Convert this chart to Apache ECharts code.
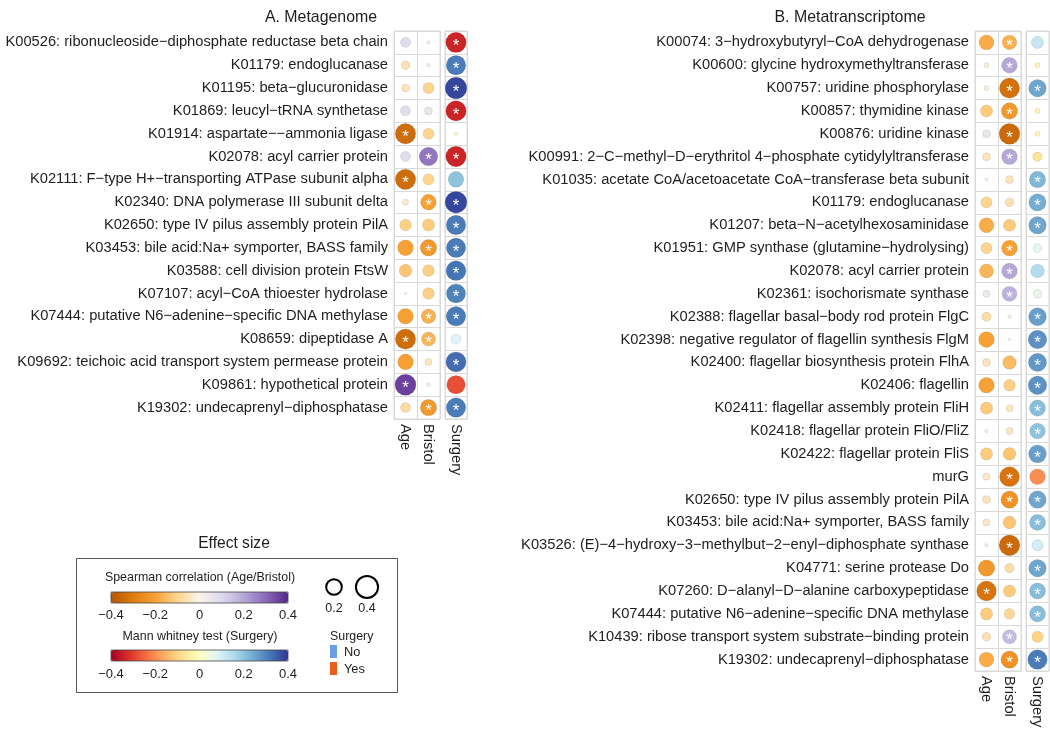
<!DOCTYPE html>
<html><head><meta charset="utf-8">
<script src="https://cdn.jsdelivr.net/npm/echarts@6/dist/echarts.min.js"></script>
<style>html,body{margin:0;padding:0;background:#fff}#c{width:1050px;height:732px}</style>
</head><body><div id="c"></div>
<script>
// ---------- Panel A: Metagenome ----------
const catsA = [
  'K00526: ribonucleoside\u2212diphosphate reductase beta chain',
  'K01179: endoglucanase',
  'K01195: beta\u2212glucuronidase',
  'K01869: leucyl\u2212tRNA synthetase',
  'K01914: aspartate\u2212\u2212ammonia ligase',
  'K02078: acyl carrier protein',
  'K02111: F\u2212type H+\u2212transporting ATPase subunit alpha',
  'K02340: DNA polymerase III subunit delta',
  'K02650: type IV pilus assembly protein PilA',
  'K03453: bile acid:Na+ symporter, BASS family',
  'K03588: cell division protein FtsW',
  'K07107: acyl\u2212CoA thioester hydrolase',
  'K07444: putative N6\u2212adenine\u2212specific DNA methylase',
  'K08659: dipeptidase A',
  'K09692: teichoic acid transport system permease protein',
  'K09861: hypothetical protein',
  'K19302: undecaprenyl\u2212diphosphatase'
];
const ageA      = [0.08,-0.06,-0.05,0.08,-0.34,0.08,-0.34,-0.03,-0.11,-0.20,-0.13,-0.005,-0.20,-0.34,-0.20,0.36,-0.08];
const bristolA  = [-0.01,-0.01,-0.10,0.05,-0.10,0.28,-0.10,-0.20,-0.12,-0.22,-0.11,-0.11,-0.17,-0.16,-0.04,-0.01,-0.22];
const surgeryA  = [-0.34,0.31,0.38,-0.34,0.01,-0.34,0.20,0.38,0.31,0.31,0.32,0.30,0.31,0.08,0.33,-0.28,0.31];
const sigAgeA     = [0,0,0,0,1,0,1,0,0,0,0,0,0,1,0,1,0];
const sigBristolA = [0,0,0,0,0,1,0,1,0,1,0,0,1,1,0,0,1];
const sigSurgeryA = [1,1,1,1,0,1,0,1,1,1,1,1,1,0,1,0,1];

// ---------- Panel B: Metatranscriptome ----------
const catsB = [
  'K00074: 3\u2212hydroxybutyryl\u2212CoA dehydrogenase',
  'K00600: glycine hydroxymethyltransferase',
  'K00757: uridine phosphorylase',
  'K00857: thymidine kinase',
  'K00876: uridine kinase',
  'K00991: 2\u2212C\u2212methyl\u2212D\u2212erythritol 4\u2212phosphate cytidylyltransferase',
  'K01035: acetate CoA/acetoacetate CoA\u2212transferase beta subunit',
  'K01179: endoglucanase',
  'K01207: beta\u2212N\u2212acetylhexosaminidase',
  'K01951: GMP synthase (glutamine\u2212hydrolysing)',
  'K02078: acyl carrier protein',
  'K02361: isochorismate synthase',
  'K02388: flagellar basal\u2212body rod protein FlgC',
  'K02398: negative regulator of flagellin synthesis FlgM',
  'K02400: flagellar biosynthesis protein FlhA',
  'K02406: flagellin',
  'K02411: flagellar assembly protein FliH',
  'K02418: flagellar protein FliO/FliZ',
  'K02422: flagellar protein FliS',
  'murG',
  'K02650: type IV pilus assembly protein PilA',
  'K03453: bile acid:Na+ symporter, BASS family',
  'K03526: (E)\u22124\u2212hydroxy\u22123\u2212methylbut\u22122\u2212enyl\u2212diphosphate synthase',
  'K04771: serine protease Do',
  'K07260: D\u2212alanyl\u2212D\u2212alanine carboxypeptidase',
  'K07444: putative N6\u2212adenine\u2212specific DNA methylase',
  'K10439: ribose transport system substrate\u2212binding protein',
  'K19302: undecaprenyl\u2212diphosphatase'
];
const ageB     = [-0.18,-0.02,-0.02,-0.12,0.05,-0.05,-0.01,-0.10,-0.18,-0.10,-0.16,0.04,-0.07,-0.20,-0.05,-0.20,-0.12,-0.01,-0.12,-0.04,-0.05,-0.04,-0.01,-0.22,-0.32,-0.12,-0.06,-0.18];
const bristolB = [-0.17,0.20,-0.33,-0.22,-0.35,0.20,-0.05,-0.06,-0.12,-0.20,0.20,0.18,-0.01,-0.005,-0.15,-0.11,-0.04,-0.04,-0.13,-0.32,-0.24,-0.13,-0.35,-0.07,-0.12,-0.09,0.16,-0.24];
const surgeryB = [0.12,-0.02,0.25,-0.02,-0.02,-0.07,0.22,0.24,0.25,0.06,0.15,0.06,0.26,0.28,0.27,0.28,0.21,0.20,0.26,-0.20,0.25,0.21,0.10,0.25,0.21,0.21,-0.10,0.31];
const sigAgeB     = [0,0,0,0,0,0,0,0,0,0,0,0,0,0,0,0,0,0,0,0,0,0,0,0,1,0,0,0];
const sigBristolB = [1,1,1,1,1,1,0,0,0,1,1,1,0,0,0,0,0,0,0,1,1,0,1,0,0,0,1,1];
const sigSurgeryB = [0,0,1,0,0,0,1,1,1,0,0,0,1,1,1,1,1,1,1,0,1,1,0,1,1,1,0,1];

// ---------- Legend content ----------
const corrCols = ['Age','Bristol'];
const surgCols = ['Surgery'];
const tickVals = [-0.4,-0.2,0,0.2,0.4];
const tickLabels = ['\u22120.4','\u22120.2','0','0.2','0.4'];
const sizeKeys = [0.2,0.4];
const sizeKeyLabels = ['0.2','0.4'];
const surgeryLevels = ['No','Yes'];
const surgeryLevelColors = ['#6a9fe6','#e8601c'];

const FONT = 'Liberation Sans, Arial, sans-serif';
const TXT = '#1e1e1e';
const GRIDLINE = '#d9d9d9';
const sizeOf = v => 35*Math.sqrt(Math.abs(v));

const puor = ['#b35806','#e07b10','#f7a135','#fdd58e','#fbf3ea','#dcd8ee','#b5a8d6','#8a69bb','#542788'];
const rdylbu = ['#a50026','#d73027','#f46d43','#fdae61','#fee090','#ffffbf','#e0f3f8','#abd9e9','#74add1','#4575b4','#313695'];

function cellData(cols, sigs){
  const out=[];
  cols.forEach((arr,ci)=>arr.forEach((v,ri)=>out.push([ci,ri,v,sigs[ci][ri]])));
  return out;
}

const grids = [
  {left:394, top:31, width:46, height:388},
  {left:445, top:31, width:22, height:388},
  {left:975, top:31, width:46, height:640},
  {left:1026, top:31, width:23, height:640}
].map(g=>Object.assign({show:true, borderColor:GRIDLINE, borderWidth:1, backgroundColor:'#fff', containLabel:false, outerBoundsMode:'none'}, g));

function xAx(gi, data){
  return {type:'category', gridIndex:gi, data:data, position:'bottom', boundaryGap:true,
    axisLine:{show:false}, axisTick:{show:false},
    axisLabel:{rotate:-90, interval:0, margin:5, fontSize:14.7, color:TXT, fontFamily:FONT},
    splitLine:{show:true, lineStyle:{color:GRIDLINE, width:1}}};
}
function yAx(gi, data, showLab){
  return {type:'category', gridIndex:gi, data:data, inverse:true, boundaryGap:true,
    axisLine:{show:false}, axisTick:{show:false},
    axisLabel:{show:showLab, interval:0, margin:6, fontSize:14.7, color:TXT, fontFamily:FONT},
    splitLine:{show:true, lineStyle:{color:GRIDLINE, width:1}}};
}
function ser(gi, data){
  return {type:'scatter', xAxisIndex:gi, yAxisIndex:gi, data:data,
    symbol:'circle', symbolSize: v=>sizeOf(v[2]),
    itemStyle:{borderColor:'rgba(0,0,0,0.12)', borderWidth:0.8, opacity:1},
    label:{show:true, position:'inside', formatter:p=>p.value[3]?'*':'', color:'#fff', fontSize:17, fontFamily:FONT, offset:[0,4]},
    emphasis:{disabled:true}, silent:true, animation:false};
}

const graphics = [];
const legendText = (x,y,t,size,align)=>graphics.push({type:'text', x:x, y:y, style:{text:t, fontSize:size, fontFamily:FONT, fill:TXT, align:align||'center', verticalAlign:'middle'}});
// legend frame and headings
legendText(234,544,'Effect size',15.6);
graphics.push({type:'rect', shape:{x:76.5,y:558.5,width:321,height:134}, style:{fill:'none', stroke:'#555', lineWidth:1}});
legendText(200,578,'Spearman correlation (Age/Bristol)',12.4);
legendText(200,637,'Mann whitney test (Surgery)',12.4);
// bar frames and tick labels (positions from the same linear scale as the bars)
const barX0=111, barLen=177;
const tickX = v => barX0 + (v+0.4)/0.8*barLen;
[[592,615],[650,674]].forEach(([by,ty])=>{
  graphics.push({type:'rect', z:100, shape:{x:barX0,y:by,width:barLen,height:11}, style:{fill:'none', stroke:'#444', lineWidth:0.8}});
  tickVals.forEach((v,i)=>legendText(tickX(v),ty,tickLabels[i],13));
});
// size keys
const keyX=[334,367];
sizeKeys.forEach((k,i)=>{
  graphics.push({type:'circle', shape:{cx:keyX[i], cy:587, r:sizeOf(k)/2}, style:{fill:'none', stroke:'#000', lineWidth:2}});
  legendText(keyX[i], 609, sizeKeyLabels[i], 12.5);
});
// surgery key
legendText(330,637,'Surgery',12.4,'left');
surgeryLevels.forEach((s,i)=>{
  graphics.push({type:'rect', shape:{x:330,y:645+i*17,width:7,height:13}, style:{fill:surgeryLevelColors[i]}});
  legendText(344,652+i*17,s,12.8,'left');
});

const chart = echarts.init(document.getElementById('c'), null, {renderer:'canvas'});
chart.setOption({
  animation:false,
  backgroundColor:'#fff',
  textStyle:{fontFamily:FONT},
  title:[
    {text:'A. Metagenome', left:316, top:5, textAlign:'center', textStyle:{fontSize:15.9, fontWeight:'normal', color:TXT, fontFamily:FONT}},
    {text:'B. Metatranscriptome', left:845, top:5, textAlign:'center', textStyle:{fontSize:15.9, fontWeight:'normal', color:TXT, fontFamily:FONT}}
  ],
  grid:grids,
  xAxis:[xAx(0,corrCols), xAx(1,surgCols), xAx(2,corrCols), xAx(3,surgCols)],
  yAxis:[yAx(0,catsA,true), yAx(1,catsA,false), yAx(2,catsB,true), yAx(3,catsB,false)],
  visualMap:[
    {type:'continuous', min:-0.4, max:0.4, dimension:2, seriesIndex:[0,2], inRange:{color:puor},
     orient:'horizontal', left:barX0, top:592, itemWidth:11, itemHeight:barLen, padding:0, calculable:false, hoverLink:false, text:null, showLabel:false},
    {type:'continuous', min:-0.4, max:0.4, dimension:2, seriesIndex:[1,3], inRange:{color:rdylbu},
     orient:'horizontal', left:barX0, top:650, itemWidth:11, itemHeight:barLen, padding:0, calculable:false, hoverLink:false, text:null, showLabel:false}
  ],
  series:[
    ser(0, cellData([ageA,bristolA],[sigAgeA,sigBristolA])),
    ser(1, cellData([surgeryA],[sigSurgeryA])),
    ser(2, cellData([ageB,bristolB],[sigAgeB,sigBristolB])),
    ser(3, cellData([surgeryB],[sigSurgeryB]))
  ],
  graphic:graphics
});
</script></body></html>
